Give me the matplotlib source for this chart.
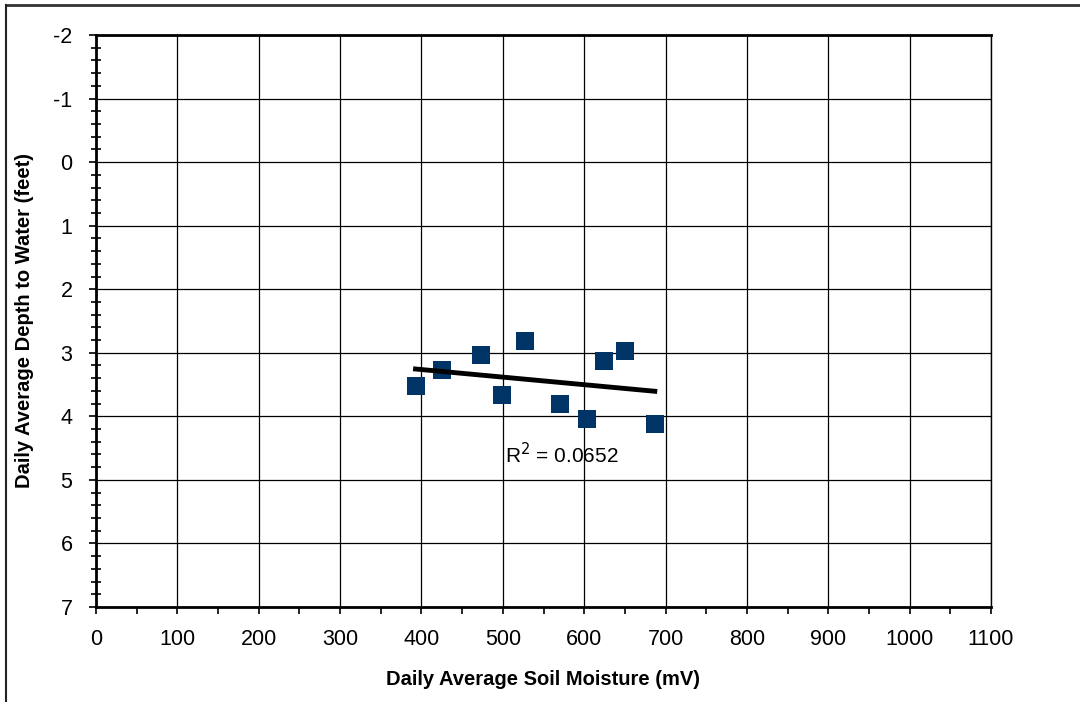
import numpy as np
import matplotlib
matplotlib.use('Agg')
import matplotlib.pyplot as plt
from matplotlib.lines import Line2D
from matplotlib.ticker import MultipleLocator

plt.rcParams['font.family'] = ['Liberation Sans', 'DejaVu Sans']
plt.rcParams['axes.unicode_minus'] = False

# soil moisture (mV) vs depth to water (feet)
soil_mv = [392.7, 425.3, 473.3, 499.5, 527.6, 569.7, 604.0, 624.0, 650.5, 686.8]
depth_ft = [3.53, 3.27, 3.03, 3.67, 2.81, 3.80, 4.04, 3.13, 2.97, 4.12]
r2_label = 'R$^2$ = 0.0652'

fig = plt.figure(figsize=(10.8, 7.02), dpi=100)
ax = fig.add_axes([96 / 1080, 1 - 607 / 702, (991 - 96) / 1080, (607 - 35) / 702])

ax.set_xlim(0, 1100)
ax.set_ylim(7, -2)
ax.xaxis.set_major_locator(MultipleLocator(100))
ax.xaxis.set_minor_locator(MultipleLocator(50))
ax.yaxis.set_major_locator(MultipleLocator(1))
ax.yaxis.set_minor_locator(MultipleLocator(0.2))
ax.grid(True, which='major', color='black', linewidth=0.9)
ax.set_axisbelow(True)

ax.tick_params(axis='both', which='major', labelsize=15.5, length=5, width=1.2, direction='out', color='black')
ax.tick_params(axis='x', which='minor', length=5, width=1.2, direction='out')
ax.tick_params(axis='y', which='minor', length=7, width=1.2, direction='inout')
ax.tick_params(axis='x', which='major', pad=11)
ax.tick_params(axis='y', which='major', pad=12)

for side in ['left', 'bottom']:
    ax.spines[side].set_linewidth(2)
ax.spines['top'].set_linewidth(2)
ax.spines['right'].set_linewidth(1)

ax.scatter(soil_mv, depth_ft, marker='s', s=150, color='#003366', zorder=3, linewidths=0)

# linear trendline
coef = np.polyfit(soil_mv, depth_ft, 1)
xs = np.array([min(soil_mv), max(soil_mv)])
ax.plot(xs, np.polyval(coef, xs), color='black', linewidth=3.5, zorder=4)

ax.text(572, 4.6, r2_label, fontsize=15, ha='center', va='center', zorder=5)

ax.set_xlabel('Daily Average Soil Moisture (mV)', fontsize=14.5, fontweight='bold', labelpad=14)
ax.set_ylabel('Daily Average Depth to Water (feet)', fontsize=14.5, fontweight='bold', labelpad=14)

# outer chart border (top and left)
fig.add_artist(Line2D([6 / 1080, 1], [1 - 5 / 702, 1 - 5 / 702], color='#333333', linewidth=2))
fig.add_artist(Line2D([6 / 1080, 6 / 1080], [0, 1 - 5 / 702], color='#222222', linewidth=1.5))

fig.savefig('out.png', dpi=100)
